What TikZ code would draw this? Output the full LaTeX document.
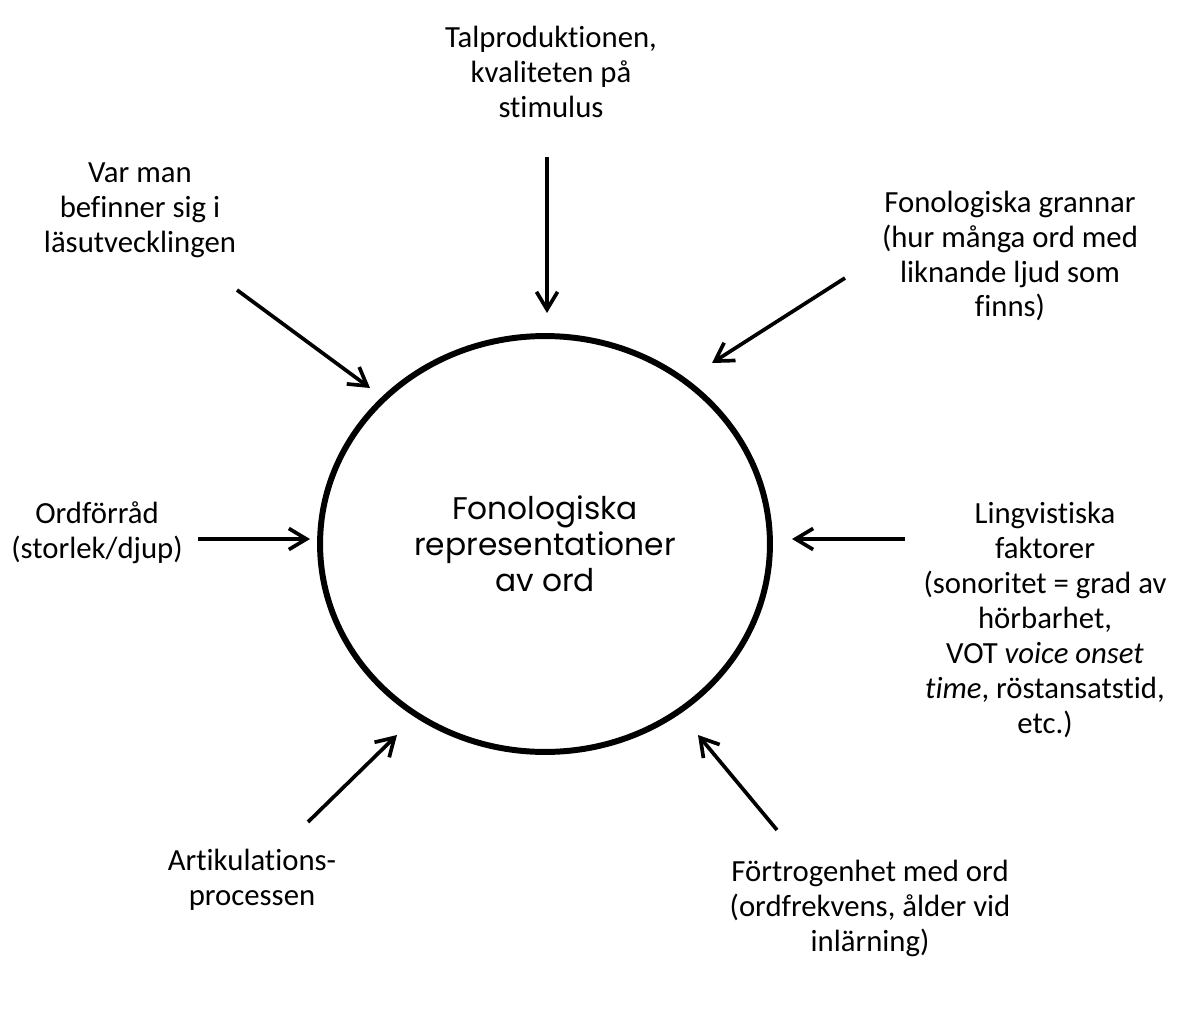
\documentclass[tikz,border=0pt]{standalone}
\usepackage{fontspec}
\setmainfont{Carlito}[Ligatures=NoCommon]
\newfontfamily\kortext{Poppins}
\usetikzlibrary{shapes.geometric,arrows.meta}

\begin{document}
\begin{tikzpicture}[x=0.02cm, y=-0.02cm]
	\tikzstyle{Faktor} = [align=center, font=\fontsize{17.5}{19.9}\selectfont, inner sep=0pt]
	\tikzstyle{Cirkel} = [ellipse, minimum width=9cm, minimum height=8.32cm, draw=black, line width=3.4pt, align=center, font=\kortext\fontsize{17.8}{20.5}\selectfont]
	\tikzstyle{arrow} = [line width=2.1pt, -{Straight Barb[length=10pt, width=12pt]}]

	\useasboundingbox (0,0) rectangle (1189,1010);

	% mitten
	\node (rep) [Cirkel] at (545,544) {Fonologiska\\representationer\\av ord};

	% faktorerna runt om
	\node (tal) [Faktor] at (551,72) {Talproduktionen,\\kvaliteten på\\stimulus};
	\node (las) [Faktor] at (140,210) {Var man\\befinner sig i\\läsutvecklingen};
	\node (gran) [Faktor] at (1010,256) {Fonologiska grannar\\(hur många ord med\\liknande ljud som\\finns)};
	\node (ordf) [Faktor] at (97,533) {Ordförråd\\(storlek/djup)};
	\node (ling) [Faktor] at (1045,620) {Lingvistiska\\faktorer\\(sonoritet = grad av\\hörbarhet,\\VOT \textit{voice onset}\\\textit{time}, röstansatstid,\\etc.)};
	\node (art) [Faktor] at (252,880) {Artikulations-\\processen};
	\node (fort) [Faktor] at (870,908) {Förtrogenhet med ord\\(ordfrekvens, ålder vid\\inlärning)};

	% pilarnas ändar
	\coordinate (tal-a) at (547,157);  \coordinate (tal-b) at (547,313);
	\coordinate (las-a) at (237,290);  \coordinate (las-b) at (370,388);
	\coordinate (gran-a) at (845,278); \coordinate (gran-b) at (712,363);
	\coordinate (ordf-a) at (198,539); \coordinate (ordf-b) at (310,539);
	\coordinate (ling-a) at (905,539); \coordinate (ling-b) at (792,539);
	\coordinate (art-a) at (308,822);  \coordinate (art-b) at (397,735);
	\coordinate (fort-a) at (777,830); \coordinate (fort-b) at (698,735);

	\foreach \f in {tal,las,gran,ordf,ling,art,fort}
		\draw [arrow] (\f-a) -- (\f-b);
\end{tikzpicture}
\end{document}
